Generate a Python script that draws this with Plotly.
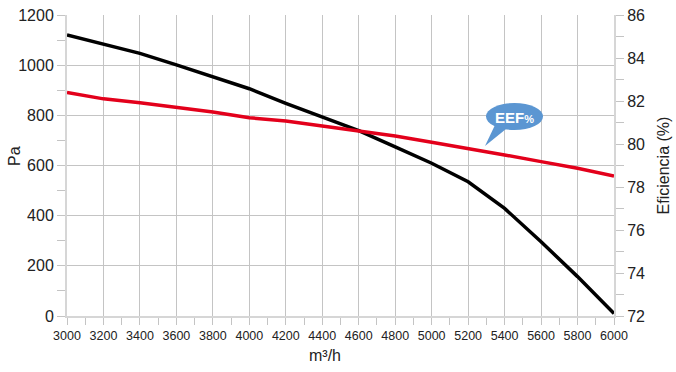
import plotly.graph_objects as go

flow = [3000, 3200, 3400, 3600, 3800, 4000, 4200, 4400, 4600, 4800,
        5000, 5200, 5400, 5600, 5800, 6000]
pressure = [1120, 1084, 1047, 1001, 952, 906, 848, 795, 739, 674,
            609, 535, 429, 296, 157, 10]
efficiency = [82.4, 82.1, 81.92, 81.7, 81.49, 81.22, 81.07, 80.84, 80.6, 80.37,
              80.08, 79.8, 79.49, 79.18, 78.87, 78.51]

x_ticks = list(range(3000, 6001, 200))
pa_ticks = list(range(0, 1201, 200))
eff_ticks = list(range(72, 87, 2))

FONT = "Liberation Sans, Arial, sans-serif"
GRID = "#c4c4c4"
AXIS = "#d6d6d6"

fig = go.Figure()
fig.add_trace(go.Scatter(x=flow, y=pressure, mode="lines", name="Pa",
                         line=dict(color="#000000", width=3.5), yaxis="y"))
fig.add_trace(go.Scatter(x=flow, y=efficiency, mode="lines", name="EEF%",
                         line=dict(color="#e3001b", width=3.5), yaxis="y2"))

# speech bubble (decoration) in paper coordinates
def px_to_paper(px, py):
    return (px - 67) / 547, (316 - py) / 301

x0, y0 = px_to_paper(486, 103)
x1, y1 = px_to_paper(543, 130)
fill = "#5b96d2"
fig.add_shape(type="circle", xref="paper", yref="paper", x0=x0, y0=y1, x1=x1, y1=y0,
              fillcolor=fill, line=dict(width=0), layer="above")
a = px_to_paper(495, 125)
b = px_to_paper(506, 129)
c = px_to_paper(485, 146)
fig.add_shape(type="path", xref="paper", yref="paper",
              path=f"M {a[0]},{a[1]} L {b[0]},{b[1]} L {c[0]},{c[1]} Z",
              fillcolor=fill, line=dict(width=0), layer="above")
tx, ty = px_to_paper(514, 117)
fig.add_annotation(xref="paper", yref="paper", x=tx, y=ty, showarrow=False,
                   xanchor="center", yanchor="middle",
                   text="<b>EEF</b><span style='font-size:11px'><b>%</b></span>",
                   font=dict(family=FONT, size=15, color="white"))

# axis titles placed as in the reference
mx, my = px_to_paper(325, 355)
fig.add_annotation(xref="paper", yref="paper", x=mx, y=my, showarrow=False,
                   xanchor="center", yanchor="middle", text="m³/h",
                   font=dict(family=FONT, size=16, color="#222222"))
px_, py_ = px_to_paper(14, 156)
fig.add_annotation(xref="paper", yref="paper", x=px_, y=py_, showarrow=False,
                   xanchor="center", yanchor="middle", text="Pa", textangle=-90,
                   font=dict(family=FONT, size=16, color="#222222"))

fig.update_layout(
    width=676, height=372,
    margin=dict(l=67, r=62, t=15, b=56),
    paper_bgcolor="white", plot_bgcolor="white",
    showlegend=False,
    font=dict(family=FONT, size=16, color="#222222"),
    xaxis=dict(range=[3000, 6000], tickvals=x_ticks, ticktext=[str(v) for v in x_ticks],
               automargin=False,
               showgrid=True, gridcolor=GRID, gridwidth=1,
               showline=True, linecolor=AXIS, linewidth=2,
               ticks="outside", ticklen=7, tickcolor=GRID,
               minor=dict(dtick=100, ticks="outside", ticklen=7, tickcolor=GRID, showgrid=False),
               tickfont=dict(family=FONT, size=12.5, color="#222222"),
               zeroline=False),
    yaxis=dict(range=[0, 1200], tickvals=pa_ticks,
               automargin=False,
               showgrid=True, gridcolor=GRID, gridwidth=1,
               showline=True, linecolor=AXIS, linewidth=2,
               ticks="outside", ticklen=8, tickcolor=GRID,
               minor=dict(dtick=100, ticks="outside", ticklen=8, tickcolor=GRID, showgrid=False),
               tickfont=dict(family=FONT, size=16, color="#222222"),
               zeroline=False),
    yaxis2=dict(range=[72, 86], tickvals=eff_ticks, overlaying="y", side="right",
                automargin=False,
                showgrid=False,
                showline=True, linecolor=AXIS, linewidth=2,
                ticks="outside", ticklen=8, tickcolor=GRID,
                minor=dict(dtick=1, ticks="outside", ticklen=8, tickcolor=GRID),
                tickfont=dict(family=FONT, size=16, color="#222222"),
                title=dict(text="Eficiencia (%)", font=dict(family=FONT, size=16), standoff=14),
                zeroline=False),
)

fig.write_html("out.html", post_script="document.body.style.margin='0';",
               config={"displayModeBar": False})
